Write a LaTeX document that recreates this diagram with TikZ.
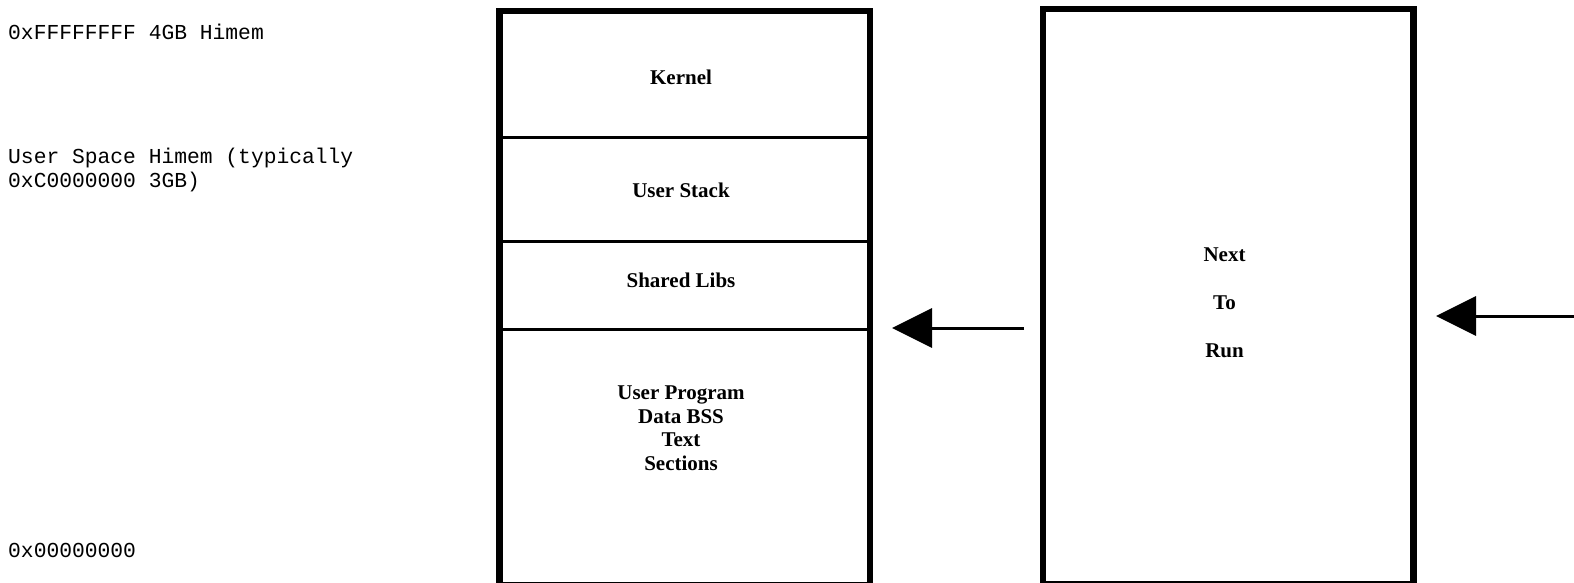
\documentclass[tikz,border=0pt]{standalone}
\usepackage{fontspec}
\setmainfont{Liberation Serif}
\setmonofont{Liberation Mono}
\usetikzlibrary{arrows.meta}
\begin{document}
\begin{tikzpicture}[x=1pt,y=-1pt,
  outerbox/.style={draw,line width=6.5pt,inner sep=0pt,anchor=north west},
  divider/.style={line width=3pt},
  seglabel/.style={font=\fontsize{21}{23.5}\selectfont\bfseries,align=center,inner sep=0pt},
  addr/.style={font=\fontsize{21.3}{24}\ttfamily,align=left,inner sep=0pt,anchor=base west},
  arr/.style={line width=3pt,-{Triangle[length=40pt,width=39pt]}}]
\useasboundingbox[fill=white] (0,0) rectangle (1574,583);
% address labels
\node[addr] (hi) at (8,40) {0xFFFFFFFF 4GB Himem};
\node[addr] (us) at (8,187) {User Space Himem (typically\\0xC0000000 3GB)};
\node[addr] (lo) at (8,557) {0x00000000};
% memory box
\node[outerbox,minimum width=370.5pt,minimum height=574pt] (mem) at (496,8) {};
\coordinate (d1l) at (496,138); \coordinate (d1r) at (866.5,138);
\coordinate (d2l) at (496,241.5); \coordinate (d2r) at (866.5,241.5);
\coordinate (d3l) at (496,329); \coordinate (d3r) at (866.5,329);
\draw[divider] (d1l) -- (d1r);
\draw[divider] (d2l) -- (d2r);
\draw[divider] (d3l) -- (d3r);
\node[seglabel] (kernel) at (681,77) {Kernel};
\node[seglabel] (stack) at (681,190) {User Stack};
\node[seglabel] (libs) at (681,280) {Shared Libs};
\node[seglabel] (prog) at (681,428) {User Program\\Data BSS\\Text\\Sections};
% next-to-run box
\node[outerbox,minimum width=370.5pt,minimum height=575pt] (next) at (1039.5,6) {};
\node[seglabel,font=\fontsize{21}{48}\selectfont\bfseries] (ntr) at (1224.5,303) {Next\\To\\Run};
% arrows
\coordinate (t1) at (1024,328); \coordinate (h1) at (892,328);
\coordinate (t2) at (1580,316); \coordinate (h2) at (1436,316);
\draw[arr] (t1) -- (h1);
\draw[arr] (t2) -- (h2);
\end{tikzpicture}
\end{document}
